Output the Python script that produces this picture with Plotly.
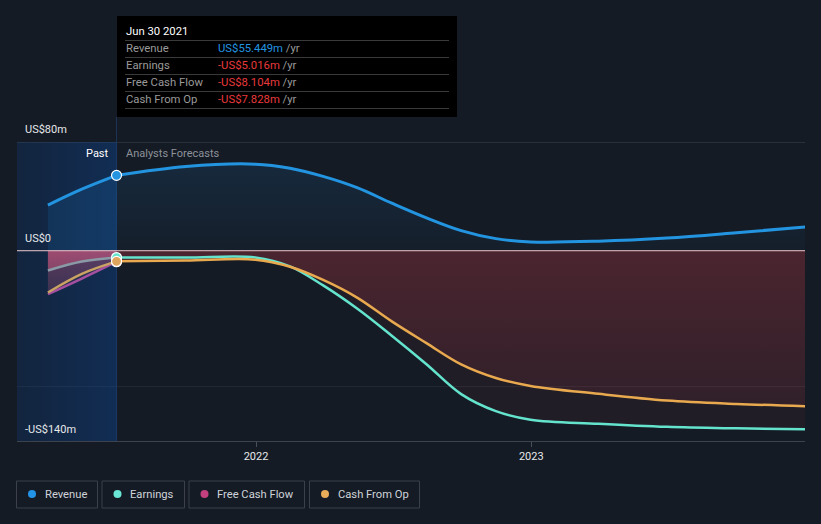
import plotly.graph_objects as go

# ---------------- data (US$ millions) ----------------
past_dates = ["2021-03-31", "2021-05-15", "2021-06-30"]
fc_dates = ["2021-06-30", "2021-09-30", "2021-12-31", "2022-02-15", "2022-03-31",
            "2022-05-15", "2022-06-30", "2022-08-15", "2022-09-30", "2022-11-15",
            "2022-12-31", "2023-03-31", "2023-06-30", "2023-09-30", "2023-12-31"]

revenue_past = [33.6, 45.3, 55.449]
earnings_past = [-14.6, -8.0, -5.016]
fcf_past = [-32.0, -20.5, -8.104]
cfo_past = [-30.7, -17.0, -7.828]

revenue_fc = [55.449, 62.0, 63.7, 60.7, 54.7, 46.4, 35.0, 24.2, 14.8, 8.9,
              6.5, 7.0, 9.3, 13.2, 17.5]
earnings_fc = [-5.016, -5.0, -4.9, -11.5, -25.5, -42.5, -62.5, -83.5, -105.5, -118.0,
               -124.3, -127.3, -129.6, -130.7, -131.4]
cfo_fc = [-7.828, -7.2, -6.6, -11.8, -21.5, -34.5, -52.0, -68.0, -83.6, -93.6,
          -99.5, -105.3, -110.2, -112.7, -114.4]

now_date = "2021-06-30"
x_range = ["2021-02-18", "2023-12-30"]
y_range = [-140, 80]
year_ticks = ["2022-01-01", "2023-01-01"]
year_labels = ["2022", "2023"]

tooltip_title = "Jun 30 2021"
tooltip_rows = [("Revenue", "US$55.449m", "#2394e0"),
                ("Earnings", "-US$5.016m", "#e8393c"),
                ("Free Cash Flow", "-US$8.104m", "#e8393c"),
                ("Cash From Op", "-US$7.828m", "#e8393c")]
legend_items = [("Revenue", "#2394e6"), ("Earnings", "#6ae6d4"),
                ("Free Cash Flow", "#c2407e"), ("Cash From Op", "#e8ac5a")]

# ---------------- layout geometry ----------------
W, H = 821, 524
L, R, T, B = 17, 16, 142, 83
PW, PH = W - L - R, H - T - B
BG = "#151b25"
FONT = "Roboto"
SM = 1.0


def px(x):
    return (x - L) / PW


def py(y):
    return (H - B - y) / PH


def spl():
    return dict(width=0, shape="spline", smoothing=SM)


fig = go.Figure()

# past shaded region (horizontal gradient)
fig.add_trace(go.Scatter(
    x=[x_range[0], now_date, now_date, x_range[0]], y=[y_range[0], y_range[0], y_range[1], y_range[1]],
    mode="lines", line=dict(width=0), fill="toself", hoverinfo="skip", showlegend=False,
    fillgradient=dict(type="horizontal",
                      colorscale=[[0, "rgba(10,70,150,0.22)"], [1, "rgba(12,75,160,0.38)"]])))

# revenue fills
fig.add_trace(go.Scatter(x=past_dates, y=revenue_past, mode="lines", line=spl(),
                         fill="tozeroy", fillcolor="rgba(30,144,230,0.13)", hoverinfo="skip", showlegend=False))
fig.add_trace(go.Scatter(x=fc_dates, y=revenue_fc, mode="lines", line=spl(),
                         fill="tozeroy", hoverinfo="skip", showlegend=False,
                         fillgradient=dict(type="vertical", start=0, stop=64,
                                           colorscale=[[0, "rgba(30,144,230,0.03)"],
                                                       [1, "rgba(30,144,230,0.12)"]])))

# negative fills - past (pinkish)
for vals, a in [(fcf_past, 0.16), (cfo_past, 0.22), (earnings_past, 0.45)]:
    fig.add_trace(go.Scatter(x=past_dates, y=vals, mode="lines", line=spl(),
                             fill="tozeroy", hoverinfo="skip", showlegend=False,
                             fillgradient=dict(type="vertical", start=-32, stop=0,
                                               colorscale=[[0, "rgba(235,95,135,%.2f)" % (a * 0.5)],
                                                           [1, "rgba(235,95,135,%.2f)" % a]])))

# negative fills - forecast (red)
fig.add_trace(go.Scatter(x=fc_dates, y=earnings_fc, mode="lines", line=spl(),
                         fill="tozeroy", fillcolor="rgba(200,60,70,0.07)", hoverinfo="skip", showlegend=False))
fig.add_trace(go.Scatter(x=fc_dates, y=cfo_fc, mode="lines", line=spl(),
                         fill="tozeroy", hoverinfo="skip", showlegend=False,
                         fillgradient=dict(type="vertical", start=-115, stop=0,
                                           colorscale=[[0, "rgba(200,60,70,0.09)"],
                                                       [1, "rgba(200,60,70,0.25)"]])))


def line_trace(xs, ys, col, w):
    return go.Scatter(x=xs, y=ys, mode="lines", line=dict(color=col, width=w, shape="spline", smoothing=SM),
                      hoverinfo="skip", showlegend=False)


# lines - past
fig.add_trace(line_trace(past_dates, earnings_past, "#8a9aa6", 2.5))
fig.add_trace(line_trace(past_dates, fcf_past, "#a44fa0", 2.5))
fig.add_trace(line_trace(past_dates, cfo_past, "#c9a264", 2.5))
fig.add_trace(line_trace(past_dates, revenue_past, "#2394e0", 3))

# lines - forecast
fig.add_trace(line_trace(fc_dates, earnings_fc, "#64e3cd", 2.5))
fig.add_trace(line_trace(fc_dates, cfo_fc, "#e9a94f", 2.5))
fig.add_trace(line_trace(fc_dates, revenue_fc, "#2394e0", 3))

# markers at the "now" date
for val, col in [(fcf_past[-1], "#c2407e"), (earnings_past[-1], "#64e3cd"),
                 (cfo_past[-1], "#e0a55c"), (revenue_past[-1], "#2394e0")]:
    fig.add_trace(go.Scatter(x=[now_date], y=[val], mode="markers",
                             marker=dict(size=10, color=col, line=dict(color="#ffffff", width=1.2)),
                             hoverinfo="skip", showlegend=False))

shapes = []
# grid lines
shapes.append(dict(type="line", xref="paper", yref="y", x0=0, x1=1, y0=80, y1=80,
                   line=dict(color="#41474f", width=1), layer="below"))
shapes.append(dict(type="line", xref="paper", yref="y", x0=0, x1=1, y0=-100, y1=-100,
                   line=dict(color="rgba(255,255,255,0.07)", width=1), layer="below"))
# zero line
shapes.append(dict(type="line", xref="paper", yref="y", x0=0, x1=1, y0=0, y1=0,
                   line=dict(color="#ecc8cc", width=1), layer="above"))
# vertical "now" line
shapes.append(dict(type="line", xref="x", yref="paper", x0=now_date, x1=now_date, y0=0, y1=py(117),
                   line=dict(color="#1d3556", width=1), layer="below"))
# tooltip box
shapes.append(dict(type="rect", xref="paper", yref="paper", x0=px(117), x1=px(457), y0=py(117), y1=py(16),
                   fillcolor="#000000", line=dict(width=0), layer="above"))
for yy in [40.5, 57.5, 74.5, 91.5, 108.5]:
    shapes.append(dict(type="line", xref="paper", yref="paper", x0=px(125), x1=px(449), y0=py(yy), y1=py(yy),
                       line=dict(color="#3a3a3a", width=1), layer="above"))

annotations = []
TF = 11.3
# tooltip text
annotations.append(dict(xref="paper", yref="paper", x=px(123.5), y=py(31), text=tooltip_title, showarrow=False,
                        xanchor="left", yanchor="middle", font=dict(family=FONT, size=TF, color="#ffffff")))
for i, (lab, val, col) in enumerate(tooltip_rows):
    yy = 48.5 + 17 * i
    annotations.append(dict(xref="paper", yref="paper", x=px(123.5), y=py(yy), text=lab, showarrow=False,
                            xanchor="left", yanchor="middle", font=dict(family=FONT, size=TF, color="#9a9a9a")))
    annotations.append(dict(xref="paper", yref="paper", x=px(215.5), y=py(yy),
                            text="<span style='color:%s'>%s</span> /yr" % (col, val), showarrow=False,
                            xanchor="left", yanchor="middle", font=dict(family=FONT, size=TF, color="#9a9a9a")))

# y labels
for txt, yy in [("US$80m", 129), ("US$0", 238), ("-US$140m", 429)]:
    annotations.append(dict(xref="paper", yref="paper", x=px(22.5), y=py(yy), text=txt, showarrow=False,
                            xanchor="left", yanchor="middle", font=dict(family=FONT, size=11, color="#e6e8ea")))

# Past / Analysts Forecasts
annotations.append(dict(xref="paper", yref="paper", x=px(110.5), y=py(153), text="Past", showarrow=False,
                        xanchor="right", yanchor="middle", font=dict(family=FONT, size=11, color="#ffffff")))
annotations.append(dict(xref="paper", yref="paper", x=px(123.5), y=py(153), text="Analysts Forecasts",
                        showarrow=False, xanchor="left", yanchor="middle",
                        font=dict(family=FONT, size=11, color="#8d9199")))

# legend boxes
box_x = [(16.5, 97.5), (102, 184.5), (189, 304.5), (309.5, 419.5)]
for (name, col), (x0, x1) in zip(legend_items, box_x):
    shapes.append(dict(type="rect", xref="paper", yref="paper", x0=px(x0), x1=px(x1), y0=py(508), y1=py(481),
                       line=dict(color="#3b404a", width=1), fillcolor="rgba(0,0,0,0)"))
    shapes.append(dict(type="circle", xref="paper", yref="paper", x0=px(x0 + 11.5), x1=px(x0 + 19.5),
                       y0=py(498), y1=py(490), fillcolor=col, line=dict(width=0)))
    annotations.append(dict(xref="paper", yref="paper", x=px(x0 + 26), y=py(494.5), text=name,
                            showarrow=False, xanchor="left", yanchor="middle",
                            font=dict(family=FONT, size=11.2, color="#cfd3d9")))

fig.update_layout(
    width=W, height=H, margin=dict(l=L, r=R, t=T, b=B, pad=0),
    paper_bgcolor=BG, plot_bgcolor=BG, showlegend=False,
    font=dict(family=FONT, color="#e0e0e0"),
    shapes=shapes, annotations=annotations,
    xaxis=dict(type="date", range=x_range, tickvals=year_ticks, ticktext=year_labels,
               ticks="outside", ticklen=5, tickcolor="#4a505a", showline=True, linecolor="#3c424e",
               linewidth=1, showgrid=False, zeroline=False,
               tickfont=dict(family=FONT, size=11, color="#e6e8ea")),
    yaxis=dict(range=y_range, showgrid=False, zeroline=False, showticklabels=False, showline=False),
)

fig.write_html("out.html", config={"displayModeBar": False},
               post_script="document.body.style.margin='0';")
